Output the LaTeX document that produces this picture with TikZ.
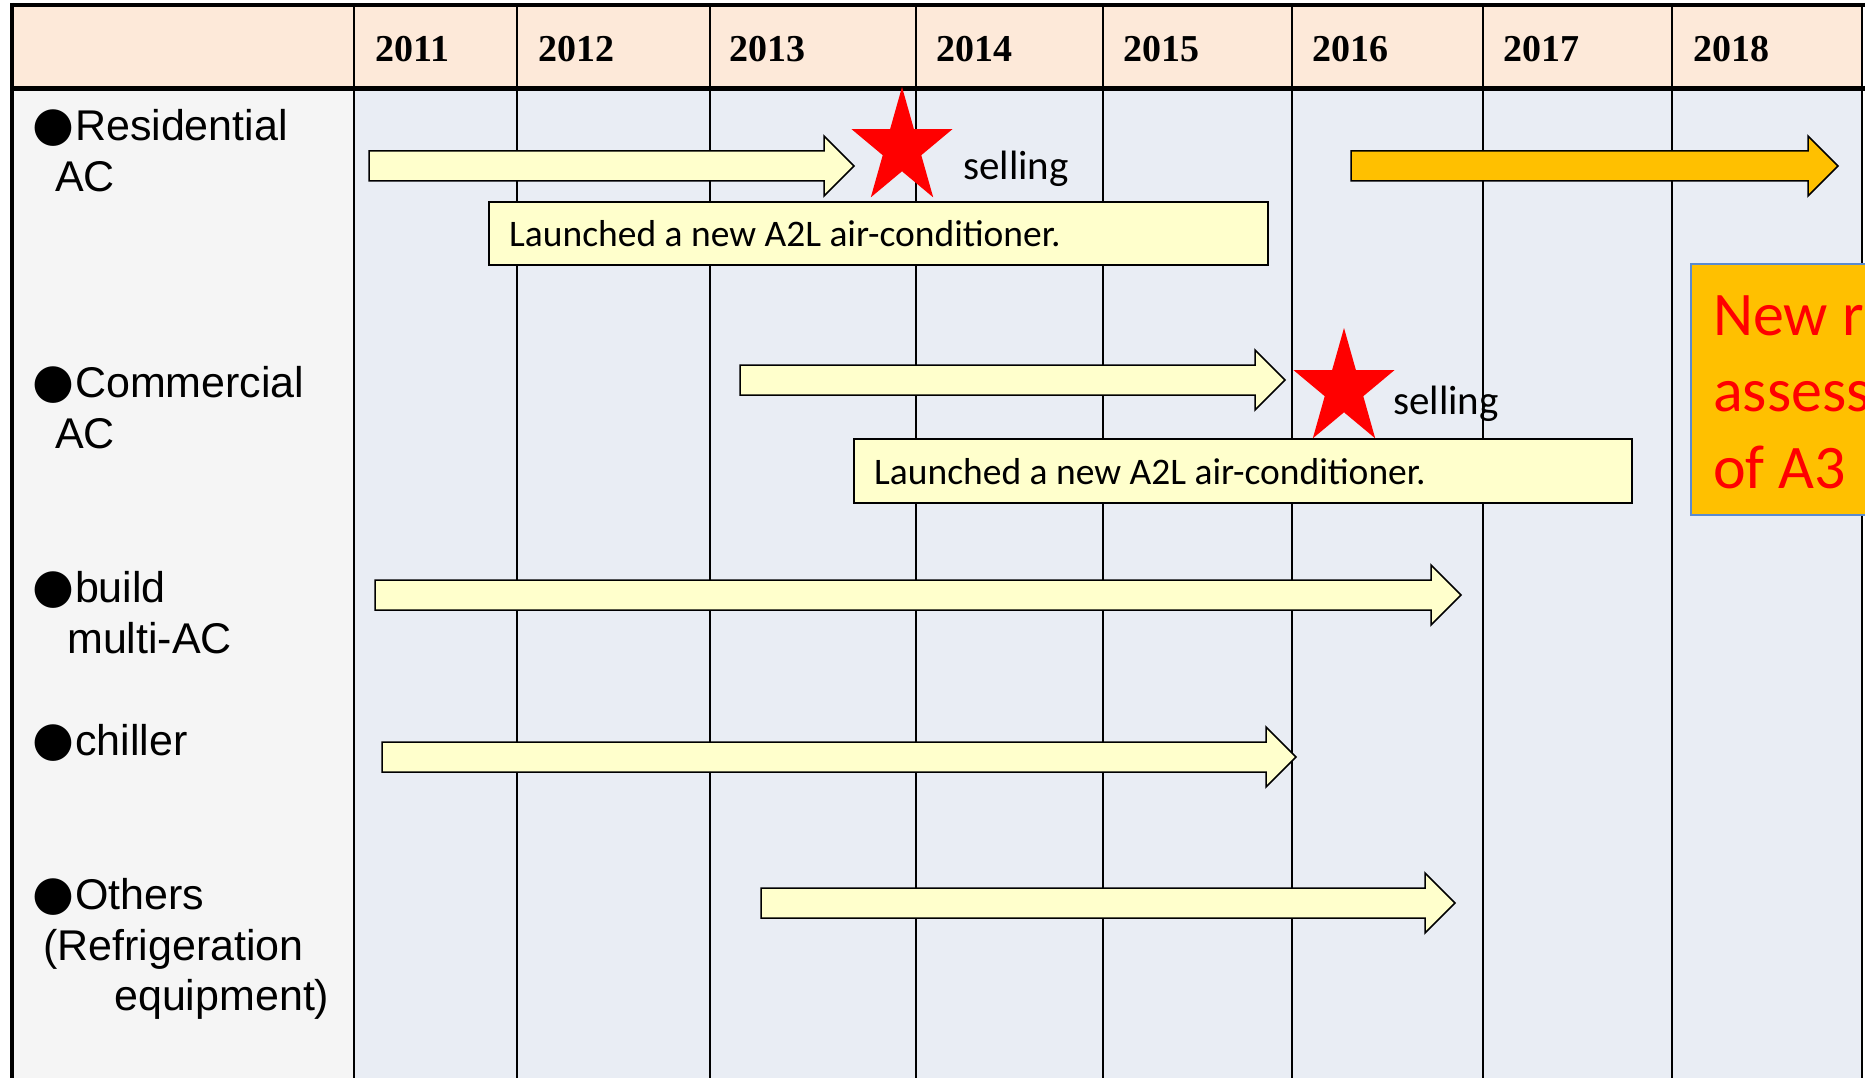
\documentclass[tikz,border=0pt]{standalone}
\usepackage{fontspec}
\setmainfont{Liberation Sans}
\newfontfamily\yearfont{Liberation Serif}
\newfontfamily\calfont{Carlito}
\newfontfamily\symfont{DejaVu Sans}
\definecolor{peach}{HTML}{FDE9D9}
\definecolor{labgray}{HTML}{F5F5F5}
\definecolor{gridblue}{HTML}{E9EDF4}
\definecolor{paleyellow}{HTML}{FFFFCC}
\definecolor{amber}{HTML}{FFC000}
\definecolor{boxblue}{HTML}{5B8BD0}
\newcommand\blockarr[4]{%
  \draw[arrowline, fill=#4] ({#1},{#3-15}) -- ({#2-30},{#3-15}) -- ({#2-30},{#3-30}) -- ({#2},{#3}) -- ({#2-30},{#3+30}) -- ({#2-30},{#3+15}) -- ({#1},{#3+15}) -- cycle;}
% star: center x, center y, vertical outer radius; horizontally compressed
\newcommand\redstar[3]{%
  \fill[red] ({#1+0.87*#3*cos(90)},{#2-#3*sin(90)})
  \foreach \k in {1,...,9} { -- ({#1+0.87*(#3*(1-0.618*mod(\k,2)))*cos(90+36*\k)},{#2-(#3*(1-0.618*mod(\k,2)))*sin(90+36*\k)}) } -- cycle;}
\newcommand\bul{{\symfont\fontsize{48}{48}\selectfont ●}}
\begin{document}
\begin{tikzpicture}[x=1pt,y=-1pt,
  yeartxt/.style={anchor=base west, inner sep=0pt, font=\yearfont\bfseries\fontsize{38}{38}\selectfont},
  labtxt/.style={anchor=base west, inner sep=0pt, font=\fontsize{43}{50}\selectfont},
  caltxt/.style={anchor=base west, inner sep=0pt, font=\calfont\fontsize{37.5}{37.5}\selectfont},
  selltxt/.style={anchor=base west, inner sep=0pt, font=\calfont\fontsize{41}{41}\selectfont},
  bigred/.style={anchor=base west, inner sep=0pt, text=red, font=\calfont\fontsize{62}{62}\selectfont},
  arrowline/.style={draw=black, line width=1.5pt, line join=miter},
  callout/.style={draw=black, line width=1.5pt, fill=paleyellow},
  gridline/.style={draw=black, line width=2pt}]
\useasboundingbox (0,0) rectangle (1865,1078);
\clip (0,0) rectangle (1865,1078);
% backgrounds
\fill[peach] (12,5) rectangle (1862,89);
\fill[labgray] (12,89) rectangle (354,1078);
\fill[gridblue] (354,89) rectangle (1862,1078);
% column lines
\foreach \cx in {354,517,710,916,1103,1292,1483,1672}
  \draw[gridline] (\cx,5) -- (\cx,1078);
\draw[gridline] (1862,5) -- (1862,1078);
\draw[black, line width=4pt] (12,3) -- (12,1078);
\draw[black, line width=3.5pt] (10,5) -- (1865,5);
\draw[black, line width=5pt] (10,89) -- (1865,89);
% years
\node[yeartxt] (y11) at (375,62) {2011};
\node[yeartxt] (y12) at (538,62) {2012};
\node[yeartxt] (y13) at (729,62) {2013};
\node[yeartxt] (y14) at (936,62) {2014};
\node[yeartxt] (y15) at (1123,62) {2015};
\node[yeartxt] (y16) at (1312,62) {2016};
\node[yeartxt] (y17) at (1503,62) {2017};
\node[yeartxt] (y18) at (1693,62) {2018};
% row labels
\node[labtxt] (lres) at (32,141) {\bul\hspace{1pt}Residential};
\node[labtxt] (lres2) at (55,192) {AC};
\node[labtxt] (lcom) at (32,397) {\bul\hspace{1pt}Commercial};
\node[labtxt] (lcom2) at (55,448) {AC};
\node[labtxt] (lbld) at (32,602) {\bul\hspace{1pt}build};
\node[labtxt] (lbld2) at (67,653) {multi-AC};
\node[labtxt] (lchl) at (32,755) {\bul\hspace{1pt}chiller};
\node[labtxt] (loth) at (32,909) {\bul\hspace{1pt}Others};
\node[labtxt] (loth2) at (43,960) {(Refrigeration};
\node[labtxt] (loth3) at (114,1010) {equipment)};
% arrows
\blockarr{369}{854}{166}{paleyellow}
\blockarr{1351}{1838}{166}{amber}
\blockarr{740}{1285}{380}{paleyellow}
\blockarr{375}{1461}{595}{paleyellow}
\blockarr{382}{1296}{757}{paleyellow}
\blockarr{761}{1455}{903}{paleyellow}
% callouts
\draw[callout] (489,202) rectangle (1268,265);
\node[caltxt] (c1) at (509,246) {Launched a new A2L air-conditioner.};
\draw[callout] (854,439) rectangle (1632,503);
\node[caltxt] (c2) at (874,484) {Launched a new A2L air-conditioner.};
% stars
\redstar{902}{148}{61}
\redstar{1344}{389}{61}
\node[selltxt] (s1) at (963,180) {selling};
\node[selltxt] (s2) at (1393,414) {selling};
% orange box
\draw[draw=boxblue, line width=1.5pt, fill=amber] (1691,264) rectangle (1900,515);
\node[bigred] (n1) at (1713,335) {New r};
\node[bigred] (n2) at (1713,411) {assess};
\node[bigred] (n3) at (1713,488) {of A3};
\end{tikzpicture}
\end{document}
